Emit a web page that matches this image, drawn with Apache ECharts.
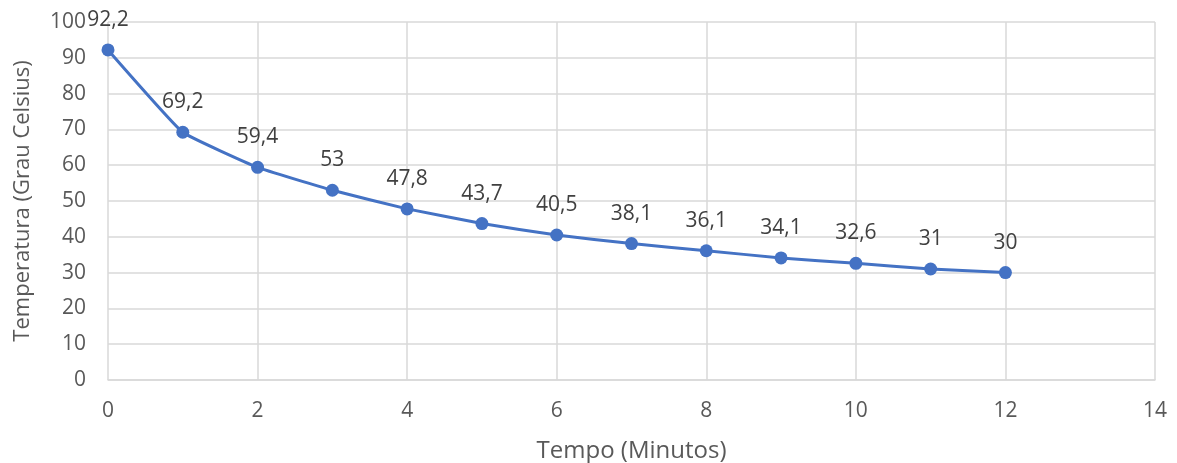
<!DOCTYPE html>
<html>
<head>
<meta charset="utf-8">
<script src="https://cdn.jsdelivr.net/npm/echarts@6/dist/echarts.min.js"></script>
<style>html,body{margin:0;padding:0;background:#fff;}#c{width:1177px;height:463px;}</style>
</head>
<body>
<div id="c"></div>
<script>
const tempos = [0, 1, 2, 3, 4, 5, 6, 7, 8, 9, 10, 11, 12];
const temperaturas = [92.2, 69.2, 59.4, 53, 47.8, 43.7, 40.5, 38.1, 36.1, 34.1, 32.6, 31, 30];
const xName = 'Tempo (Minutos)';
const yName = 'Temperatura (Grau Celsius)';

const chart = echarts.init(document.getElementById('c'));
const font = 'Open Sans';
chart.setOption({
  animation: false,
  backgroundColor: '#ffffff',
  grid: { left: 108, right: 22, top: 22, bottom: 83, containLabel: false, outerBoundsMode: 'none' },
  xAxis: {
    type: 'value', min: 0, max: 14, interval: 2,
    name: xName, nameLocation: 'middle', nameGap: 59,
    nameTextStyle: { fontFamily: font, fontSize: 24, color: '#595959' },
    axisLine: { show: true, lineStyle: { color: '#d9d9d9', width: 1.5 } },
    axisTick: { show: false },
    axisLabel: { fontFamily: font, fontSize: 21, color: '#595959', margin: 21 },
    splitLine: { show: true, lineStyle: { color: '#d9d9d9', width: 1.5 } }
  },
  yAxis: {
    type: 'value', min: 0, max: 100, interval: 10,
    name: yName, nameLocation: 'middle', nameGap: 74,
    nameTextStyle: { fontFamily: font, fontSize: 22, color: '#595959' },
    axisLine: { show: false },
    axisTick: { show: false },
    axisLabel: { fontFamily: font, fontSize: 21, color: '#595959', margin: 22 },
    splitLine: { show: true, lineStyle: { color: '#d9d9d9', width: 1.5 } }
  },
  series: [{
    type: 'line',
    data: tempos.map((t, i) => [t, temperaturas[i]]),
    smooth: 0.1,
    symbol: 'circle', symbolSize: 13,
    lineStyle: { color: '#4472C4', width: 3 },
    itemStyle: { color: '#4472C4' },
    label: {
      show: true, position: 'top', distance: 13,
      fontFamily: font, fontSize: 21, color: '#404040',
      formatter: p => String(p.value[1]).replace('.', ',')
    }
  }]
});
</script>
</body>
</html>
